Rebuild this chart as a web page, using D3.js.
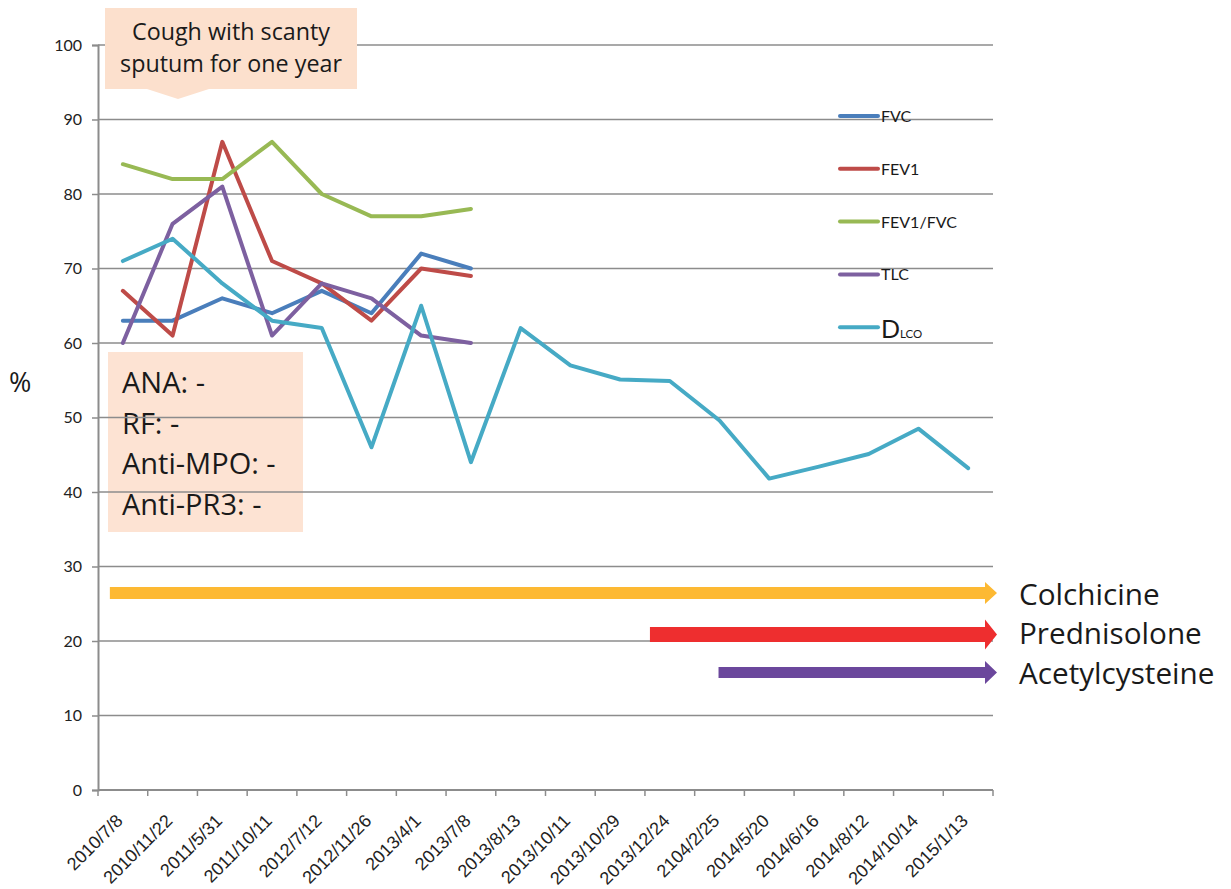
<!DOCTYPE html>
<html>
<head>
<meta charset="utf-8">
<script src="https://cdn.jsdelivr.net/npm/d3@7/dist/d3.min.js"></script>
<style>
  html, body { margin: 0; padding: 0; background: #fff; }
  svg { display: block; }
</style>
</head>
<body>
<svg id="chart" width="1231" height="889"></svg>
<script>
// Visit dates (category axis)
const dates = ["2010/7/8", "2010/11/22", "2011/5/31", "2011/10/11", "2012/7/12", "2012/11/26",
  "2013/4/1", "2013/7/8", "2013/8/13", "2013/10/11", "2013/10/29", "2013/12/24", "2104/2/25",
  "2014/5/20", "2014/6/16", "2014/8/12", "2014/10/14", "2015/1/13"];

// Pulmonary function values, % predicted
const fvc     = [63, 63, 66, 64, 67, 64, 72, 70];
const fev1    = [67, 61, 87, 71, 68, 63, 70, 69];
const fev1Fvc = [84, 82, 82, 87, 80, 77, 77, 78];
const tlc     = [60, 76, 81, 61, 68, 66, 61, 60];
const dlco    = [71, 74, 68, 63, 62, 46, 65, 44, 62, 57, 55.1, 54.9, 49.6, 41.8, 43.4, 45.1, 48.5, 43.2];

const yTicks = [0, 10, 20, 30, 40, 50, 60, 70, 80, 90, 100];

// Treatments: first date index and label
const drugNames = ["Colchicine", "Prednisolone", "Acetylcysteine"];
const drugStart = [0, 11, 12];

const series = [
  { name: "FVC",      values: fvc,     color: "#4a7ebb" },
  { name: "FEV1",     values: fev1,    color: "#be4b48" },
  { name: "FEV1/FVC", values: fev1Fvc, color: "#98b954" },
  { name: "TLC",      values: tlc,     color: "#7d60a0" },
  { name: "DLCO",     values: dlco,    color: "#46aac5" }
];

const svg = d3.select("#chart");
const plotL = 98, plotR = 993, plotT = 45, plotB = 790;

const x = d3.scaleBand().domain(dates).range([plotL, plotR]).padding(0);
const cx = d => x(d) + x.bandwidth() / 2;
const y = d3.scaleLinear().domain([0, 100]).range([plotB, plotT]);

const gridColor = "#8c8c8c";
const noteFont = "'Open Sans', Lato, sans-serif";
const labelFont = "Lato, 'Open Sans', sans-serif";

// Info box (drawn beneath the gridlines)
const info = svg.append("g");
info.append("rect")
  .attr("x", 108).attr("y", 352).attr("width", 195).attr("height", 180)
  .attr("fill", "#fde3d3");
["ANA: -", "RF: -", "Anti-MPO: -", "Anti-PR3: -"].forEach((t, i) => {
  info.append("text")
    .attr("x", 122).attr("y", 393 + i * 40.7)
    .attr("font-family", noteFont)
    .attr("font-size", 29).attr("fill", "#1a1a1a")
    .text(t);
});

// Horizontal gridlines
svg.append("g").selectAll("line").data(yTicks.filter(v => v > 0)).join("line")
  .attr("x1", plotL).attr("x2", plotR)
  .attr("y1", d => y(d)).attr("y2", d => y(d))
  .attr("stroke", gridColor).attr("stroke-width", 1.3);

// Y axis
const yAxis = svg.append("g").attr("transform", `translate(${plotL},0)`)
  .call(d3.axisLeft(y).tickValues(yTicks).tickSize(6).tickPadding(10));
yAxis.select(".domain").attr("stroke", gridColor).attr("stroke-width", 2);
yAxis.selectAll(".tick line").attr("stroke", gridColor).attr("stroke-width", 1.5);
yAxis.selectAll(".tick text")
  .attr("font-family", labelFont)
  .attr("font-size", 16).attr("fill", "#222");

// X axis: ticks at category boundaries
const xAxisG = svg.append("g");
xAxisG.append("line")
  .attr("x1", plotL).attr("x2", plotR).attr("y1", plotB).attr("y2", plotB)
  .attr("stroke", gridColor).attr("stroke-width", 2);
const bounds = dates.map(d => x(d)).concat([plotR]);
xAxisG.selectAll(".xt").data(bounds).join("line")
  .attr("class", "xt")
  .attr("x1", d => d).attr("x2", d => d)
  .attr("y1", plotB).attr("y2", plotB + 6)
  .attr("stroke", gridColor).attr("stroke-width", 1.5);
xAxisG.selectAll(".xl").data(dates).join("text")
  .attr("class", "xl")
  .attr("text-anchor", "end")
  .attr("font-family", "'Liberation Sans', Arial, sans-serif")
  .attr("font-size", 18).attr("fill", "#222")
  .attr("transform", d => `translate(${cx(d) + 1},${plotB + 32}) rotate(-45)`)
  .text(d => d);

// "%" axis title
svg.append("text").attr("x", 9).attr("y", 392)
  .attr("font-family", noteFont)
  .attr("font-size", 27).attr("fill", "#1a1a1a").text("%");

// Data lines
const line = d3.line().x((d, i) => cx(dates[i])).y(d => y(d));
svg.append("g").selectAll("path").data(series).join("path")
  .attr("d", s => line(s.values))
  .attr("fill", "none")
  .attr("stroke", s => s.color)
  .attr("stroke-width", 4)
  .attr("stroke-linejoin", "round")
  .attr("stroke-linecap", "round");

// Legend
const legend = svg.append("g");
series.forEach((s, i) => {
  const ly = 116 + i * 52.8;
  legend.append("line")
    .attr("x1", 840).attr("x2", 878).attr("y1", ly).attr("y2", ly)
    .attr("stroke", s.color).attr("stroke-width", 4).attr("stroke-linecap", "round");
  if (s.name === "DLCO") {
    const t = legend.append("text").attr("x", 881).attr("y", ly + 10.5)
      .attr("font-family", labelFont).attr("fill", "#1a1a1a");
    t.append("tspan").attr("font-size", 25).text("D");
    t.append("tspan").attr("font-size", 11.5).text("LCO");
  } else {
    legend.append("text").attr("x", 881).attr("y", ly + 6)
      .attr("font-family", labelFont)
      .attr("font-size", 16).attr("fill", "#1a1a1a").text(s.name);
  }
});

// Callout at the top
const call = svg.append("g");
call.append("path")
  .attr("d", "M105,8 H357 V89 H209 L178,99 L147,89 H105 Z")
  .attr("fill", "#fce0cd");
["Cough with scanty", "sputum for one year"].forEach((t, i) => {
  call.append("text")
    .attr("x", 231).attr("y", 40 + i * 32)
    .attr("text-anchor", "middle")
    .attr("font-family", noteFont)
    .attr("font-size", 23.3).attr("fill", "#1a1a1a")
    .text(t);
});

// Treatment arrows
const drugColors = ["#fdb933", "#ee2e2f", "#6b479c"];
const arrowY = [593, 634.5, 672.5];
const arrowBody = [12, 15, 11];
const arrowHead = [22, 30, 23];
const arrowStartX = [cx(dates[drugStart[0]]) - 13, x(dates[drugStart[1]]) + 5, cx(dates[drugStart[2]]) - 1];
const tipX = 997;
const arrows = svg.append("g");
drugNames.forEach((name, i) => {
  const yc = arrowY[i], hb = arrowBody[i] / 2, hh = arrowHead[i] / 2, hx = tipX - 12;
  arrows.append("path")
    .attr("d", `M${arrowStartX[i]},${yc - hb} H${hx} V${yc - hh} L${tipX},${yc} L${hx},${yc + hh} V${yc + hb} H${arrowStartX[i]} Z`)
    .attr("fill", drugColors[i]);
  arrows.append("text")
    .attr("x", 1019).attr("y", [605, 644, 684][i])
    .attr("font-family", noteFont)
    .attr("font-size", 29.7).attr("fill", "#1a1a1a")
    .text(name);
});
</script>
</body>
</html>
